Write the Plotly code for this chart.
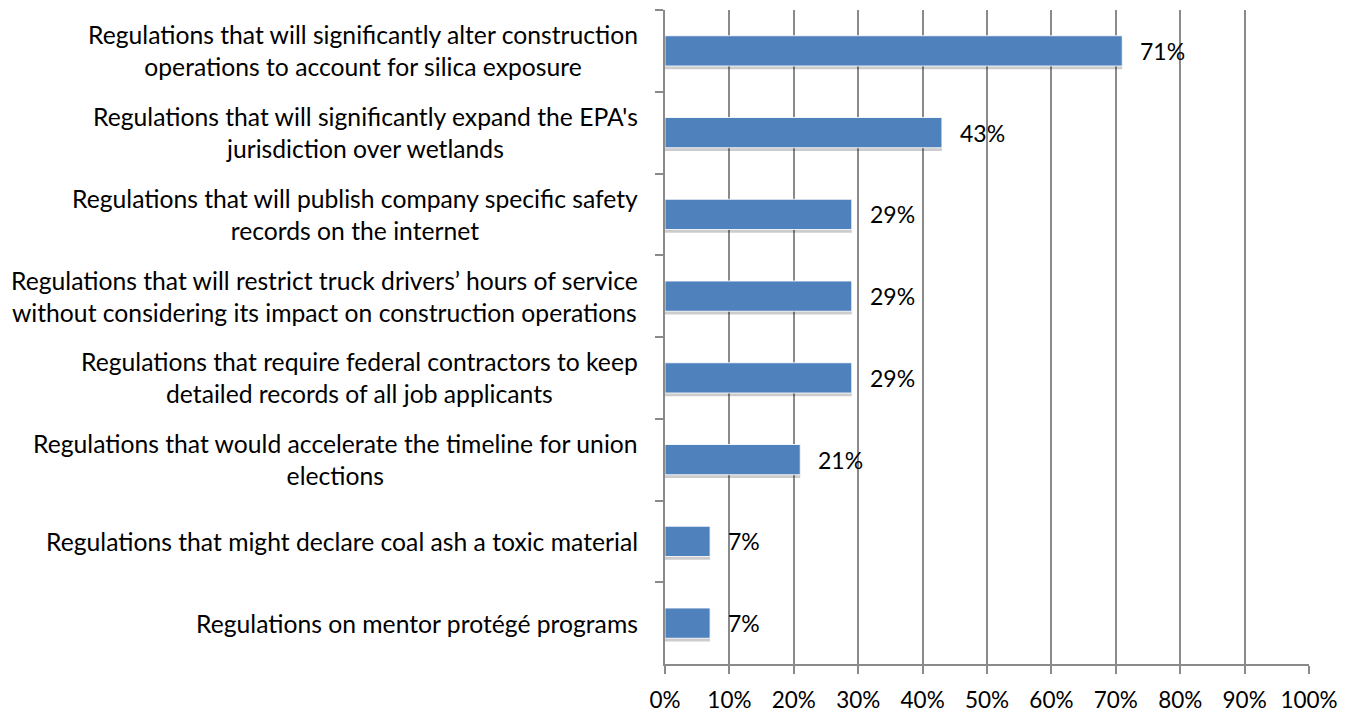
import plotly.graph_objects as go

categories = [
    "Regulations that will significantly alter construction<br>operations to account for silica exposure",
    "Regulations that will significantly expand the EPA's<br>jurisdiction over wetlands",
    "Regulations that will publish company specific safety<br>records on the internet",
    "Regulations that will restrict truck drivers’ hours of service<br>without considering its impact on construction operations",
    "Regulations that require federal contractors to keep<br>detailed records of all job applicants",
    "Regulations that would accelerate the timeline for union<br>elections",
    "Regulations that might declare coal ash a toxic material",
    "Regulations on mentor protégé programs",
]
values = [71, 43, 29, 29, 29, 21, 7, 7]
x_ticks = list(range(0, 101, 10))
x_tick_labels = [f"{t}%" for t in x_ticks]

FONT = "Lato"
BAR_COLOR = "#4F81BD"
GRID = "#8a8a8a"
BAR_W = 0.37

fig = go.Figure()

# soft drop shadow under each bar
fig.add_trace(go.Bar(
    y=categories, x=values, orientation="h",
    width=BAR_W, offset=-BAR_W / 2 + 0.04,
    marker=dict(color="rgba(0,0,0,0.2)", line=dict(width=0)),
    hoverinfo="skip", showlegend=False,
))
fig.add_trace(go.Bar(
    y=categories, x=values, orientation="h",
    width=BAR_W, offset=-BAR_W / 2,
    marker=dict(color=BAR_COLOR, line=dict(color="rgba(255,255,255,0.85)", width=1)),
    showlegend=False,
))

# value labels beside the bars
for cat, v in zip(categories, values):
    fig.add_annotation(
        x=v, y=cat, xref="x", yref="y", text=f"{v}%",
        showarrow=False, xanchor="left", xshift=16,
        font=dict(family=FONT, size=23, color="#000000"),
    )

# category labels, centred lines, right-aligned block
for cat in categories:
    fig.add_annotation(
        x=0, y=cat, xref="x", yref="y", text=cat,
        showarrow=False, xanchor="right", align="center", xshift=-25,
        font=dict(family=FONT, size=24.7, color="#000000"),
    )

fig.update_layout(
    width=1351, height=713,
    margin=dict(l=665, r=42, t=10, b=49),
    paper_bgcolor="white", plot_bgcolor="white",
    barmode="overlay",
    font=dict(family=FONT, size=22, color="#000000"),
)
fig.update_xaxes(
    range=[0, 100], tickvals=x_ticks, ticktext=x_tick_labels,
    showgrid=True, gridcolor=GRID, gridwidth=1.5,
    showline=True, linecolor=GRID, linewidth=1.5,
    ticks="outside", ticklen=8, tickcolor=GRID, tickwidth=1.5,
    ticklabelstandoff=7, automargin=False,
    zeroline=False, fixedrange=True,
    tickfont=dict(family=FONT, size=22.5, color="#000000"),
)
fig.update_yaxes(
    autorange="reversed", showticklabels=False, automargin=False,
    showline=True, linecolor=GRID, linewidth=1.5,
    ticks="outside", ticklen=8, tickcolor=GRID, tickwidth=1.5,
    tickson="boundaries", showgrid=False, fixedrange=True,
)

fig.write_html("out.html")
